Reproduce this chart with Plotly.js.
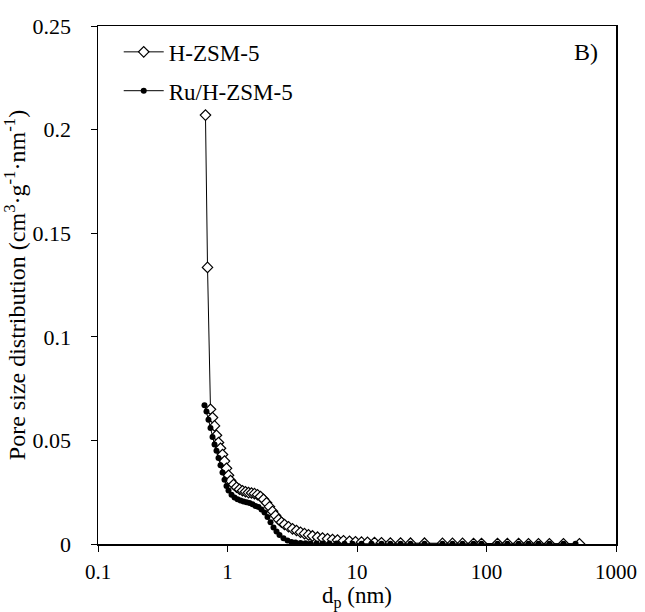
<!DOCTYPE html>
<html>
<head>
<meta charset="utf-8">
<script src="https://cdn.plot.ly/plotly-3.0.1.min.js"></script>
<style>html,body{margin:0;padding:0;background:#fff;}</style>
</head>
<body>
<div id="chart" style="width:645px;height:612px;"></div>
<script>
// H-ZSM-5 pore diameter (nm) and distribution (cm3 g-1 nm-1)
const hzsmX = [0.676, 0.701, 0.739, 0.766, 0.794, 0.822, 0.852, 0.883, 0.915, 0.948, 0.982, 1.018, 1.055,
  1.113, 1.174, 1.238, 1.306, 1.377, 1.453, 1.532, 1.616, 1.705, 1.798, 1.897, 2.001, 2.110, 2.226, 2.348,
  2.477, 2.612, 2.755, 2.958, 3.177, 3.411, 3.663, 3.931, 4.222, 4.533, 4.955, 5.416, 5.920, 6.470, 7.071,
  7.866, 8.752, 9.737, 10.83, 12.05, 13.65, 15.46, 18.1, 21.7, 25.9, 33.2, 45.7, 54.6, 65.3, 79.4, 91.5,
  121.6, 145, 177, 211, 252, 306, 393, 522];
const hzsmY = [0.207, 0.1335, 0.065, 0.061, 0.057, 0.0525, 0.049, 0.0462, 0.0432, 0.0400, 0.0365, 0.0332, 0.0306,
  0.0287, 0.0274, 0.0264, 0.0257, 0.0252, 0.0248, 0.0246, 0.0243, 0.0238, 0.0229, 0.0216, 0.0199, 0.0180, 0.0158, 0.0137,
  0.0118, 0.0105, 0.0094, 0.0083, 0.0073, 0.0065, 0.0057, 0.0050, 0.0044, 0.0039, 0.0033, 0.0029, 0.0025, 0.0022, 0.0019,
  0.0016, 0.0013, 0.0011, 0.0009, 0.0008, 0.0007, 0.0006, 0.0005, 0.0005, 0.0004, 0.0004, 0.0003, 0.0003, 0.0003, 0.0002, 0.0002,
  0.0002, 0.0002, 0.0002, 0.0001, 0.0001, 0.0001, 0.0001, 0.0001];

// Ru/H-ZSM-5
const ruX = [0.664, 0.688, 0.713, 0.739, 0.766, 0.794, 0.822, 0.852, 0.883, 0.915, 0.948, 0.982, 1.018,
  1.074, 1.133, 1.194, 1.260, 1.329, 1.402, 1.479, 1.560, 1.645, 1.735, 1.830, 1.931, 2.036, 2.148, 2.266,
  2.390, 2.521, 2.706, 2.906, 3.120, 3.350, 3.663, 4.003, 4.375, 4.867, 5.416, 6.133, 6.946, 8.009, 9.233,
  10.83, 12.94, 15.46, 18.1, 21.7, 25.9, 33.2, 45.7, 54.6, 65.3, 79.4, 91.5, 121.6, 145, 177, 211, 252, 306, 393, 487];
const ruY = [0.067, 0.064, 0.060, 0.056, 0.0516, 0.048, 0.045, 0.0415, 0.038, 0.0345, 0.031, 0.028, 0.0258,
  0.0238, 0.0225, 0.0216, 0.0210, 0.0205, 0.0202, 0.0198, 0.0192, 0.0184, 0.0178, 0.0167, 0.0152, 0.0130, 0.0105, 0.0080,
  0.0060, 0.0043, 0.0028, 0.0017, 0.0010, 0.0007, 0.0005, 0.0004, 0.0003, 0.0003, 0.0002, 0.0002, 0.0002, 0.0001, 0.0001,
  0.0001, 0.0001, 0.0001, 0.0001, 0.0001, 0.0001, 0.0001, 0.0001, 0.0001, 0.0001, 0.0001, 0.0001, 0.0001, 0.0001, 0.0001,
  0.0001, 0.0001, 0.0001, 0.0001, 0.0001];

const xTickVals = [0.1, 1, 10, 100, 1000];
const xTickText = ['0.1', '1', '10', '100', '1000'];
const yTickVals = [0, 0.05, 0.1, 0.15, 0.2, 0.25];
const yTickText = ['0', '0.05', '0.1', '0.15', '0.2', '0.25'];

const FONT = 'Liberation Serif';

const traces = [
  {
    x: hzsmX, y: hzsmY, name: 'H-ZSM-5', type: 'scatter', mode: 'lines+markers',
    line: {color: '#000', width: 1},
    marker: {symbol: 'diamond', size: 8, color: '#fff', line: {color: '#000', width: 1.2}},
    legend: 'legend'
  },
  {
    x: ruX, y: ruY, name: 'Ru/H-ZSM-5', type: 'scatter', mode: 'lines+markers',
    line: {color: '#000', width: 1},
    marker: {symbol: 'circle', size: 6, color: '#000', line: {color: '#000', width: 0}},
    legend: 'legend2'
  }
];

const legendCommon = {
  bgcolor: 'rgba(0,0,0,0)', borderwidth: 0,
  font: {family: FONT, size: 23, color: '#000'},
  xanchor: 'left', yanchor: 'middle', itemwidth: 40
};

const layout = {
  width: 645, height: 612,
  margin: {l: 98, r: 29, t: 26, b: 68},
  paper_bgcolor: '#fff', plot_bgcolor: '#fff',
  font: {family: FONT, size: 22, color: '#000'},
  showlegend: true,
  legend: Object.assign({}, legendCommon, {x: 0.04, y: 0.95}),
  legend2: Object.assign({}, legendCommon, {x: 0.04, y: 0.875}),
  xaxis: {
    type: 'log', range: [-1, 3],
    tickvals: xTickVals, ticktext: xTickText,
    ticks: 'outside', ticklen: 6, tickwidth: 1, tickcolor: '#000',
    ticklabelstandoff: 2,
    showline: true, linecolor: '#000', linewidth: 1.5, mirror: true,
    showgrid: false, zeroline: false, automargin: false,
    tickfont: {family: FONT, size: 21, color: '#000'},
    title: {text: 'd<sub>p</sub> (nm)', font: {family: FONT, size: 23, color: '#000'}, standoff: 4}
  },
  yaxis: {
    range: [0, 0.25],
    tickvals: yTickVals, ticktext: yTickText,
    ticks: 'outside', ticklen: 6, tickwidth: 1, tickcolor: '#000',
    ticklabelstandoff: 15,
    showline: true, linecolor: '#000', linewidth: 1.5, mirror: true,
    showgrid: false, zeroline: false, automargin: false,
    tickfont: {family: FONT, size: 22, color: '#000'},
    title: {text: 'Pore size distribution (cm<sup>3</sup>·g<sup>-1</sup>·nm<sup>-1</sup>)',
      font: {family: FONT, size: 24, color: '#000'}, standoff: 0}
  },
  annotations: [
    {text: 'B)', xref: 'paper', yref: 'paper', x: 0.97, y: 0.95, xanchor: 'right', yanchor: 'middle',
      showarrow: false, font: {family: FONT, size: 24, color: '#000'}}
  ]
};

Plotly.newPlot('chart', traces, layout, {displayModeBar: false, staticPlot: true});
</script>
</body>
</html>
